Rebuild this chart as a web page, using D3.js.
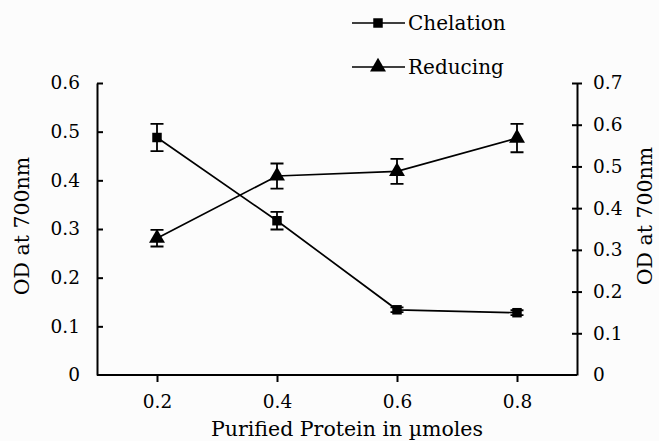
<!DOCTYPE html>
<html><head><meta charset="utf-8">
<script src="https://cdn.jsdelivr.net/npm/d3@7"></script>
<style>html,body{margin:0;padding:0;background:#fcfcfc;}svg{display:block;}</style>
</head><body>
<script>
const categories = ["0.2", "0.4", "0.6", "0.8"];
const chelation = [0.488, 0.317, 0.134, 0.128];
const chelationErr = [0.028, 0.018, 0.005, 0.005];
const reducing = [0.328, 0.477, 0.488, 0.568];
const reducingErr = [0.02, 0.03, 0.03, 0.034];
const leftTicks = [0, 0.1, 0.2, 0.3, 0.4, 0.5, 0.6];
const rightTicks = [0, 0.1, 0.2, 0.3, 0.4, 0.5, 0.6, 0.7];
const xTitle = "Purified Protein in µmoles";
const yTitle = "OD at 700nm";

(function () {
const W = 659, H = 441;
const pL = 97, pR = 577, pT = 83, pB = 375;
const font = "'DejaVu Serif', serif";
const svg = d3.select("body").append("svg").attr("width", W).attr("height", H);
svg.append("rect").attr("width", W).attr("height", H).attr("fill", "#fcfcfc");

const x = d3.scalePoint().domain(categories).range([pL, pR]).padding(0.5);
const yL = d3.scaleLinear().domain([0, 0.6]).range([pB, pT]);
const yR = d3.scaleLinear().domain([0, 0.7]).range([pB, pT]);
const fmt = d => d === 0 ? "0" : d3.format(".1f")(d);

const gx = svg.append("g").attr("transform", `translate(0,${pB})`)
  .call(d3.axisBottom(x).tickSize(7).tickSizeOuter(0).tickPadding(13));
gx.select(".domain").attr("d", `M${pL},0H${pR}`);
const gl = svg.append("g").attr("transform", `translate(${pL},0)`)
  .call(d3.axisLeft(yL).tickValues(leftTicks).tickFormat(fmt).tickSize(6).tickSizeOuter(0).tickPadding(11));
gl.selectAll(".tick line").attr("x2", 6);
const gr = svg.append("g").attr("transform", `translate(${pR},0)`)
  .call(d3.axisRight(yR).tickValues(rightTicks).tickFormat(fmt).tickSize(5).tickSizeOuter(0).tickPadding(11));
gr.selectAll(".tick line").attr("x1", -5);
gl.select(".tick:first-of-type line").remove();
gr.select(".tick:first-of-type line").remove();
svg.selectAll(".domain, .tick line").attr("stroke", "#000").attr("stroke-width", 2);
svg.selectAll(".tick text").attr("font-family", font).attr("font-size", 18.5).attr("fill", "#000");

svg.append("text").attr("x", 347).attr("y", 436).attr("text-anchor", "middle")
  .attr("font-family", font).attr("font-size", 20.5).text(xTitle);
svg.append("text").attr("transform", `translate(29,226) rotate(-90)`).attr("text-anchor", "middle")
  .attr("font-family", font).attr("font-size", 20.5).text(yTitle);
svg.append("text").attr("transform", `translate(652,216) rotate(-90)`).attr("text-anchor", "middle")
  .attr("font-family", font).attr("font-size", 20.5).text(yTitle);

const line = (yS) => d3.line().x((d, i) => x(categories[i])).y(d => yS(d));
const tri = d3.symbol().type(d3.symbolTriangle).size(110);
const sq = d3.symbol().type(d3.symbolSquare).size(90);

function series(vals, errs, yS, sym) {
  const g = svg.append("g");
  g.append("path").datum(vals).attr("d", line(yS)).attr("fill", "none").attr("stroke", "#000").attr("stroke-width", 1.7);
  vals.forEach((v, i) => {
    const cx = x(categories[i]);
    const y1 = yS(v + errs[i]), y2 = yS(v - errs[i]);
    g.append("path").attr("d", `M${cx},${y1}V${y2}M${cx-6.5},${y1}H${cx+6.5}M${cx-6.5},${y2}H${cx+6.5}`)
      .attr("stroke", "#000").attr("stroke-width", 1.8).attr("fill", "none");
    g.append("path").attr("d", sym()).attr("transform", `translate(${cx},${yS(v)})`).attr("fill", "#000");
  });
}
series(chelation, chelationErr, yL, sq);
series(reducing, reducingErr, yR, tri);

const leg = [{name: "Chelation", y: 23, sym: sq}, {name: "Reducing", y: 67, sym: tri}];
leg.forEach(l => {
  svg.append("line").attr("x1", 352).attr("x2", 405).attr("y1", l.y).attr("y2", l.y).attr("stroke", "#000").attr("stroke-width", 1.7);
  svg.append("path").attr("d", l.sym()).attr("transform", `translate(378,${l.y})`).attr("fill", "#000");
  svg.append("text").attr("x", 408).attr("y", l.y + 7).attr("font-family", font).attr("font-size", 20).text(l.name);
});
})();
</script>
</body></html>
